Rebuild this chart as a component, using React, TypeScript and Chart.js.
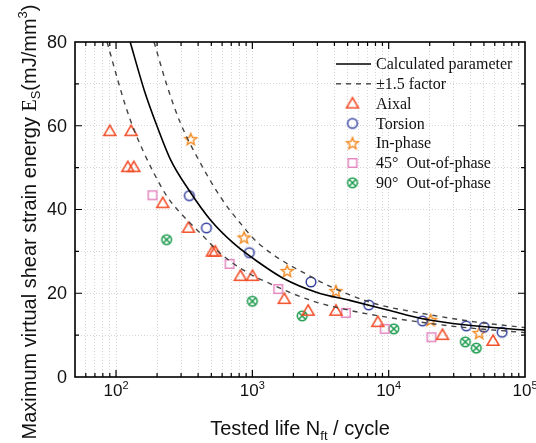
import React, { useEffect, useRef } from 'react';
import { Chart, registerables } from 'chart.js';

Chart.register(...registerables);

// ---------- axes ----------
const X_MIN = 50;
const X_MAX = 100000;
const Y_MIN = 0;
const Y_MAX = 80;
const yTickValues = [0, 20, 40, 60, 80];
const yTickLabels = ['0', '20', '40', '60', '80'];
const xMajorValues = [100, 1000, 10000, 100000];
const xTickBase = ['10', '10', '10', '10'];
const xTickExp = ['2', '3', '4', '5'];
const xGridValues = [
  50, 60, 70, 80, 90,
  100, 200, 300, 400, 500, 600, 700, 800, 900,
  1000, 2000, 3000, 4000, 5000, 6000, 7000, 8000, 9000,
  10000, 20000, 30000, 40000, 50000, 60000, 70000, 80000, 90000,
  100000,
];

// ---------- curves ----------
const calcN = [127, 161, 201, 252, 343, 493, 730, 1143, 1680, 2980, 5190, 9840, 17700, 37100, 100000];
const calcE = [80, 68.5, 59.7, 51.8, 44.6, 37.5, 31.9, 27.1, 23.6, 20.2, 18.3, 16.0, 13.9, 12.4, 11.2];

const upperN = [190, 238, 298, 417, 583, 817, 1111, 2980, 5190, 8590, 15000, 40000, 100000];
const upperE = [80, 69.3, 60.5, 51.0, 43.0, 36.7, 31.9, 23.2, 19.6, 17.2, 15.6, 13.3, 11.8];

const lowerN = [86, 103, 118, 136, 161, 190, 238, 298, 417, 583, 914, 1285, 2740, 5190, 9660, 30000, 100000];
const lowerE = [80, 70.9, 64.5, 58.9, 53.4, 48.6, 43.0, 39.1, 34.3, 29.5, 25.0, 22.6, 18.2, 15.9, 14.3, 12.1, 10.6];

// ---------- test data ----------
const axialN = [90, 129, 122, 135, 220, 340, 509, 534, 817, 1002, 1714, 2565, 4100, 8320, 24800, 58300];
const axialE = [58.7, 58.7, 50.1, 50.1, 41.5, 35.6, 29.9, 29.9, 24.1, 24.1, 18.6, 15.8, 15.8, 13.1, 10.0, 8.6];

const torsionN = [345, 460, 950, 2690, 7140, 17700, 37100, 50100, 67900];
const torsionE = [43.3, 35.6, 29.7, 22.7, 17.2, 13.4, 12.2, 11.9, 10.7];

const inPhaseN = [353, 870, 1800, 4100, 20300, 46100];
const inPhaseE = [56.8, 33.3, 25.3, 20.5, 13.6, 10.5];

const op45N = [185, 681, 1550, 4850, 9350, 20600];
const op45E = [43.4, 27.0, 21.0, 15.3, 11.5, 9.5];

const op90N = [235, 1000, 2320, 10900, 36500, 43900];
const op90E = [32.8, 18.1, 14.6, 11.5, 8.4, 6.9];

const seriesLabels = ['Calculated parameter', '\u00B11.5 factor', 'Aixal', 'Torsion', 'In-phase', '45\u00B0  Out-of-phase', '90\u00B0  Out-of-phase'];

const RED = '#f24e28';
const BLUE = '#35429e';
const ORANGE = '#f28a22';
const PINK = '#e487c0';
const GREEN = '#17994a';

const SANS = '"Liberation Sans", Arial, sans-serif';
const SERIF = '"Liberation Serif", "Times New Roman", serif';

const pts = (xs: number[], ys: number[]) => xs.map((x, i) => ({ x, y: ys[i] }));

function makeMarker(kind: string): HTMLCanvasElement {
  const c = document.createElement('canvas');
  c.width = 18;
  c.height = 18;
  const g = c.getContext('2d') as CanvasRenderingContext2D;
  const cx = 9, cy = 9;
  g.lineWidth = 1.5;
  g.lineJoin = 'miter';
  if (kind === 'tri') {
    g.strokeStyle = RED;
    g.beginPath();
    g.moveTo(cx, cy - 6);
    g.lineTo(cx + 6, cy + 4.3);
    g.lineTo(cx - 6, cy + 4.3);
    g.closePath();
    g.stroke();
  } else if (kind === 'circ') {
    g.strokeStyle = BLUE;
    g.beginPath();
    g.arc(cx, cy, 4.8, 0, Math.PI * 2);
    g.stroke();
  } else if (kind === 'star') {
    g.strokeStyle = ORANGE;
    g.lineWidth = 1.4;
    g.beginPath();
    for (let i = 0; i < 10; i++) {
      const r = i % 2 === 0 ? 6.2 : 2.7;
      const a = -Math.PI / 2 + (i * Math.PI) / 5;
      const px = cx + r * Math.cos(a);
      const py = cy + 0.5 + r * Math.sin(a);
      if (i === 0) g.moveTo(px, py); else g.lineTo(px, py);
    }
    g.closePath();
    g.stroke();
  } else if (kind === 'sq') {
    g.strokeStyle = PINK;
    g.strokeRect(cx - 4.3, cy - 4.3, 8.6, 8.6);
  } else if (kind === 'xc') {
    g.strokeStyle = GREEN;
    g.beginPath();
    g.arc(cx, cy, 4.8, 0, Math.PI * 2);
    g.stroke();
    g.beginPath();
    const d = 3.3;
    g.moveTo(cx - d, cy - d); g.lineTo(cx + d, cy + d);
    g.moveTo(cx + d, cy - d); g.lineTo(cx - d, cy + d);
    g.stroke();
  }
  return c;
}

type Part = { t: string; f: string; dy: number };

function partsWidth(ctx: CanvasRenderingContext2D, parts: Part[]) {
  let w = 0;
  for (const p of parts) { ctx.font = p.f; w += ctx.measureText(p.t).width; }
  return w;
}
function drawParts(ctx: CanvasRenderingContext2D, parts: Part[], x0: number, y0: number) {
  let x = x0;
  for (const p of parts) {
    ctx.font = p.f;
    ctx.fillText(p.t, x, y0 + p.dy);
    x += ctx.measureText(p.t).width;
  }
}

const decorPlugin = {
  id: 'decor',
  afterDraw(chart: any) {
    const ctx: CanvasRenderingContext2D = chart.ctx;
    const a = chart.chartArea;
    const xs = chart.scales.x;
    const ys = chart.scales.y;
    ctx.save();
    // frame
    ctx.strokeStyle = '#000';
    ctx.lineWidth = 1.6;
    ctx.strokeRect(a.left, a.top, a.right - a.left, a.bottom - a.top);
    // inward ticks
    ctx.lineWidth = 1.2;
    ctx.beginPath();
    for (const t of xs.ticks) {
      const px = xs.getPixelForValue(t.value);
      if (px <= a.left + 1 || px >= a.right - 1) continue;
      const lg = Math.log10(t.value);
      const major = Math.abs(lg - Math.round(lg)) < 1e-9;
      const L = major ? 7 : 4;
      ctx.moveTo(px, a.bottom); ctx.lineTo(px, a.bottom - L);
      ctx.moveTo(px, a.top); ctx.lineTo(px, a.top + L);
    }
    for (const t of ys.ticks) {
      const py = ys.getPixelForValue(t.value);
      if (py <= a.top + 1 || py >= a.bottom - 1) continue;
      const major = t.value % 20 === 0;
      const L = major ? 7 : 4;
      ctx.moveTo(a.left, py); ctx.lineTo(a.left + L, py);
      ctx.moveTo(a.right, py); ctx.lineTo(a.right - L, py);
    }
    ctx.stroke();

    ctx.fillStyle = '#111';
    // y tick labels
    ctx.font = `18px ${SANS}`;
    ctx.textAlign = 'right';
    ctx.textBaseline = 'middle';
    yTickValues.forEach((v, i) => {
      ctx.fillText(yTickLabels[i], a.left - 8, ys.getPixelForValue(v) + 1);
    });
    // x tick labels with superscripts
    ctx.textAlign = 'left';
    ctx.textBaseline = 'alphabetic';
    xMajorValues.forEach((v, i) => {
      const px = xs.getPixelForValue(v);
      const parts: Part[] = [
        { t: xTickBase[i], f: `17px ${SANS}`, dy: 0 },
        { t: xTickExp[i], f: `11px ${SANS}`, dy: -7 },
      ];
      const w = partsWidth(ctx, parts);
      drawParts(ctx, parts, px - w / 2, a.bottom + 19);
    });

    // x title
    const xt: Part[] = [
      { t: 'Tested life N', f: `20px ${SANS}`, dy: 0 },
      { t: 'ft', f: `13px ${SANS}`, dy: 5 },
      { t: ' / cycle', f: `20px ${SANS}`, dy: 0 },
    ];
    const xw = partsWidth(ctx, xt);
    drawParts(ctx, xt, (a.left + a.right) / 2 - xw / 2, 435);

    // y title (rotated)
    const yt: Part[] = [
      { t: 'Maximum virtual shear strain energy ', f: `20px ${SANS}`, dy: 0 },
      { t: 'E', f: `20px ${SERIF}`, dy: 0 },
      { t: 'S', f: `13px ${SANS}`, dy: 4 },
      { t: '(mJ/mm', f: `20px ${SANS}`, dy: 0 },
      { t: '3', f: `13px ${SANS}`, dy: -9 },
      { t: ')', f: `20px ${SANS}`, dy: 0 },
    ];
    const yw = partsWidth(ctx, yt);
    ctx.save();
    ctx.translate(36, 222);
    ctx.rotate(-Math.PI / 2);
    drawParts(ctx, yt, -yw / 2, 0);
    ctx.restore();

    // legend
    const ds = chart.data.datasets;
    const legendItems = [0, 1, 3, 4, 5, 6, 7];
    const lx0 = 336, lx1 = 371, tx = 376, y0 = 64, step = 19.8;
    ctx.textBaseline = 'middle';
    ctx.textAlign = 'left';
    legendItems.forEach((di, row) => {
      const d = ds[di];
      const y = y0 + row * step;
      if (d.showLine) {
        ctx.save();
        ctx.strokeStyle = d.borderColor;
        ctx.lineWidth = d.borderWidth;
        ctx.setLineDash(d.borderDash || []);
        ctx.beginPath();
        ctx.moveTo(lx0, y);
        ctx.lineTo(lx1, y);
        ctx.stroke();
        ctx.restore();
      } else {
        const img = d.pointStyle as HTMLCanvasElement;
        ctx.drawImage(img, (lx0 + lx1) / 2 - img.width / 2 - 1, y - img.height / 2);
      }
      ctx.fillStyle = '#111';
      ctx.font = `16px ${SERIF}`;
      ctx.fillText(d.label, tx, y + 1);
    });
    ctx.restore();
  },
};

export default function App() {
  const ref = useRef<HTMLCanvasElement | null>(null);

  useEffect(() => {
    const canvas = ref.current;
    if (!canvas) return;
    const mTri = makeMarker('tri');
    const mCirc = makeMarker('circ');
    const mStar = makeMarker('star');
    const mSq = makeMarker('sq');
    const mXc = makeMarker('xc');

    const lineBase = {
      showLine: true,
      pointRadius: 0,
      pointHoverRadius: 0,
      cubicInterpolationMode: 'monotone' as const,
      fill: false,
    };
    const scatterBase = { showLine: false, pointRadius: 7, pointHoverRadius: 7 };

    const chart = new Chart(canvas, {
      type: 'scatter',
      data: {
        datasets: [
          { ...lineBase, label: seriesLabels[0], data: pts(calcN, calcE), borderColor: '#000', borderWidth: 1.6 },
          { ...lineBase, label: seriesLabels[1], data: pts(upperN, upperE), borderColor: '#444', borderWidth: 1.4, borderDash: [5, 5] },
          { ...lineBase, label: seriesLabels[1], data: pts(lowerN, lowerE), borderColor: '#444', borderWidth: 1.4, borderDash: [5, 5] },
          { ...scatterBase, label: seriesLabels[2], data: pts(axialN, axialE), pointStyle: mTri },
          { ...scatterBase, label: seriesLabels[3], data: pts(torsionN, torsionE), pointStyle: mCirc },
          { ...scatterBase, label: seriesLabels[4], data: pts(inPhaseN, inPhaseE), pointStyle: mStar },
          { ...scatterBase, label: seriesLabels[5], data: pts(op45N, op45E), pointStyle: mSq },
          { ...scatterBase, label: seriesLabels[6], data: pts(op90N, op90E), pointStyle: mXc },
        ] as any,
      },
      options: {
        animation: false,
        responsive: false,
        devicePixelRatio: 1,
        layout: { padding: { left: 0, top: 42, right: 11, bottom: 0 } },
        plugins: { legend: { display: false }, tooltip: { enabled: false } },
        scales: {
          x: {
            type: 'logarithmic',
            min: X_MIN,
            max: X_MAX,
            afterBuildTicks: (scale: any) => {
              scale.ticks = xGridValues.map((v) => ({ value: v }));
            },
            afterFit: (scale: any) => { scale.height = 66; },
            ticks: { display: false, autoSkip: false },
            grid: { color: '#d6d6d6', lineWidth: 1, drawTicks: false },
            border: { display: false, dash: [1, 2] },
          },
          y: {
            type: 'linear',
            min: Y_MIN,
            max: Y_MAX,
            ticks: { display: false, stepSize: 10 },
            afterFit: (scale: any) => { scale.width = 75; },
            grid: { color: '#d6d6d6', lineWidth: 1, drawTicks: false },
            border: { display: false, dash: [1, 2] },
          },
        },
      } as any,
      plugins: [decorPlugin],
    });
    return () => chart.destroy();
  }, []);

  return (
    <div style={{ position: 'absolute', left: 0, top: 0, width: 536, height: 443, background: '#fff' }}>
      <canvas ref={ref} width={536} height={443} style={{ width: 536, height: 443, display: 'block' }} />
    </div>
  );
}
